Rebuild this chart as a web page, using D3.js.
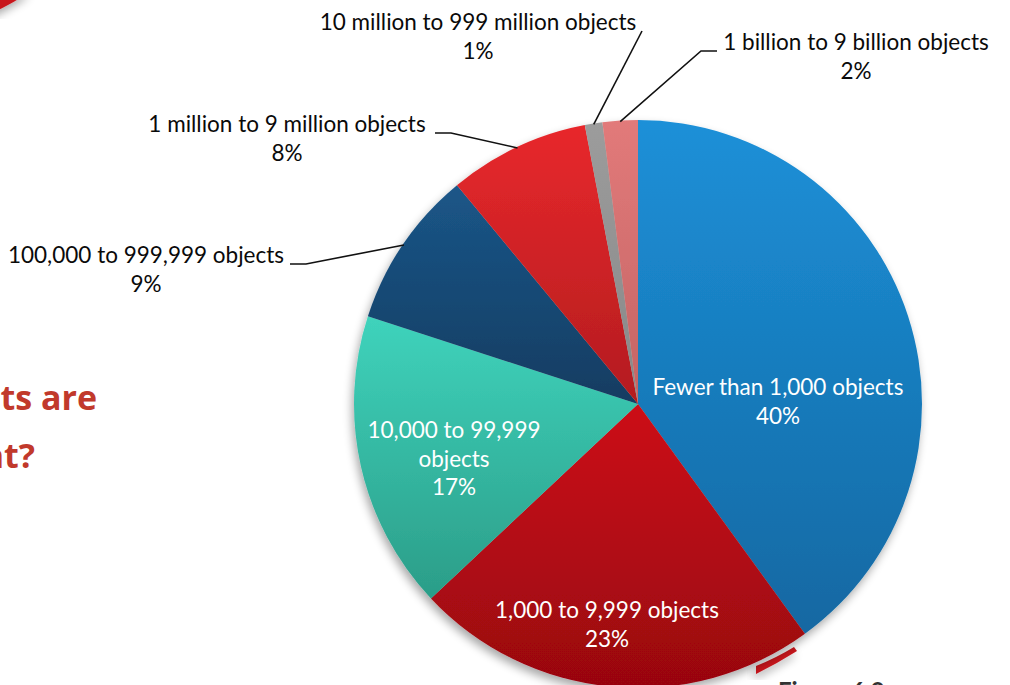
<!DOCTYPE html>
<html>
<head>
<meta charset="utf-8">
<script src="https://cdn.jsdelivr.net/npm/d3@7"></script>
<style>
  html, body { margin: 0; padding: 0; background: #fff; overflow: hidden; }
  svg { display: block; }
</style>
</head>
<body>
<script>
// chart data
var categories = [
  "Fewer than 1,000 objects",
  "1,000 to 9,999 objects",
  "10,000 to 99,999 objects",
  "100,000 to 999,999 objects",
  "1 million to 9 million objects",
  "10 million to 999 million objects",
  "1 billion to 9 billion objects"
];
var values = [40, 23, 17, 9, 8, 1, 2];
var colorTop = ["#1d90d8", "#cc0c16", "#3fd3bc", "#1b5688", "#e8282c", "#9c9c9c", "#e27a7a"];
var colorBottom = ["#1268a2", "#980610", "#2b9d88", "#123c61", "#b31c1f", "#888888", "#c46464"];

// label layout (lines of text, anchor point, leader elbow)
var labelLayout = [
  {inside: true,  lines: ["Fewer than 1,000 objects", "40%"], x: 778, y: 395},
  {inside: true,  lines: ["1,000 to 9,999 objects", "23%"], x: 607, y: 618},
  {inside: true,  lines: ["10,000 to 99,999", "objects", "17%"], x: 454, y: 438},
  {inside: false, lines: ["100,000 to 999,999 objects", "9%"], x: 146, y: 263, leader: [[290, 264], [306, 264]]},
  {inside: false, lines: ["1 million to 9 million objects", "8%"], x: 287, y: 132, leader: [[435, 133], [451, 133]]},
  {inside: false, lines: ["10 million to 999 million objects", "1%"], x: 478, y: 30, leader: [[642, 31]]},
  {inside: false, lines: ["1 billion to 9 billion objects", "2%"], x: 856, y: 50, leader: [[717, 51], [701, 51]]}
];

var width = 1010, height = 685;
var cx = 638, cy = 404, radius = 284;
var lineH = 28.5;
var fontFamily = "Lato, 'Open Sans', sans-serif";

var svg = d3.select("body").append("svg")
    .attr("width", width)
    .attr("height", height);

var defs = svg.append("defs");

var shadow = defs.append("filter").attr("id", "shadow")
    .attr("x", "-20%").attr("y", "-20%").attr("width", "140%").attr("height", "140%");
shadow.append("feGaussianBlur").attr("in", "SourceAlpha").attr("stdDeviation", 5);
shadow.append("feOffset").attr("dx", -2).attr("dy", 5).attr("result", "off");
shadow.append("feComponentTransfer").append("feFuncA").attr("type", "linear").attr("slope", 0.35);
var merge = shadow.append("feMerge");
merge.append("feMergeNode");
merge.append("feMergeNode").attr("in", "SourceGraphic");

values.forEach(function(v, i) {
  var g = defs.append("linearGradient").attr("id", "grad" + i)
      .attr("x1", 0).attr("y1", 0).attr("x2", 0).attr("y2", 1);
  g.append("stop").attr("offset", "0%").attr("stop-color", colorTop[i]);
  g.append("stop").attr("offset", "100%").attr("stop-color", colorBottom[i]);
});

// slide decorations around the chart
svg.append("path")
    .attr("d", "M-10,-10 L32,-10 Q16,2 -10,14 Z")
    .attr("fill", "#c8161d")
    .attr("filter", "url(#shadow)");
svg.append("path")
    .attr("d", "M756,666 Q776,658 794,647 L797,651 Q778,663 756,674 Z")
    .attr("fill", "#c8161d")
    .attr("filter", "url(#shadow)");

svg.append("text")
    .attr("x", 97).attr("y", 410)
    .attr("text-anchor", "end")
    .style("font-family", "'Open Sans', sans-serif")
    .style("font-weight", "bold")
    .style("font-size", "34px")
    .style("fill", "#c1392b")
    .text("Which objects are");
svg.append("text")
    .attr("x", 35).attr("y", 468)
    .attr("text-anchor", "end")
    .style("font-family", "'Open Sans', sans-serif")
    .style("font-weight", "bold")
    .style("font-size", "34px")
    .style("fill", "#c1392b")
    .text("most important?");

svg.append("text")
    .attr("x", 778).attr("y", 700)
    .style("font-family", fontFamily)
    .style("font-weight", "bold")
    .style("font-size", "24px")
    .style("fill", "#333")
    .text("Figure 6.9");
svg.append("text")
    .attr("x", 925).attr("y", 702)
    .style("font-family", fontFamily)
    .style("font-size", "24px")
    .style("fill", "#999")
    .text("88");

// pie
var pie = d3.pie().sort(null).value(function(d) { return d; });
var arcs = pie(values);

var arc = d3.arc().innerRadius(0).outerRadius(radius);
var edge = d3.arc().innerRadius(radius - 1).outerRadius(radius - 1);

var g = svg.append("g")
    .attr("transform", "translate(" + cx + "," + cy + ")");

var slices = g.append("g").attr("filter", "url(#shadow)");
slices.selectAll("path")
    .data(arcs)
    .enter().append("path")
    .attr("d", arc)
    .attr("fill", function(d, i) { return "url(#grad" + i + ")"; });

// leader lines
labelLayout.forEach(function(l, i) {
  if (l.inside) return;
  var p = edge.centroid(arcs[i]);
  var pts = l.leader.concat([[p[0] + cx, p[1] + cy]]);
  svg.append("path")
      .attr("d", d3.line()(pts))
      .attr("fill", "none")
      .attr("stroke", "#111")
      .attr("stroke-width", 1.6);
});

// labels
labelLayout.forEach(function(l, i) {
  var t = svg.append("text")
      .attr("text-anchor", "middle")
      .style("font-family", fontFamily)
      .style("font-size", "22.5px")
      .style("fill", l.inside ? "#fff" : "#0a0a0a");
  l.lines.forEach(function(s, j) {
    t.append("tspan").attr("x", l.x).attr("y", l.y + j * lineH).text(s);
  });
});
</script>
</body>
</html>
